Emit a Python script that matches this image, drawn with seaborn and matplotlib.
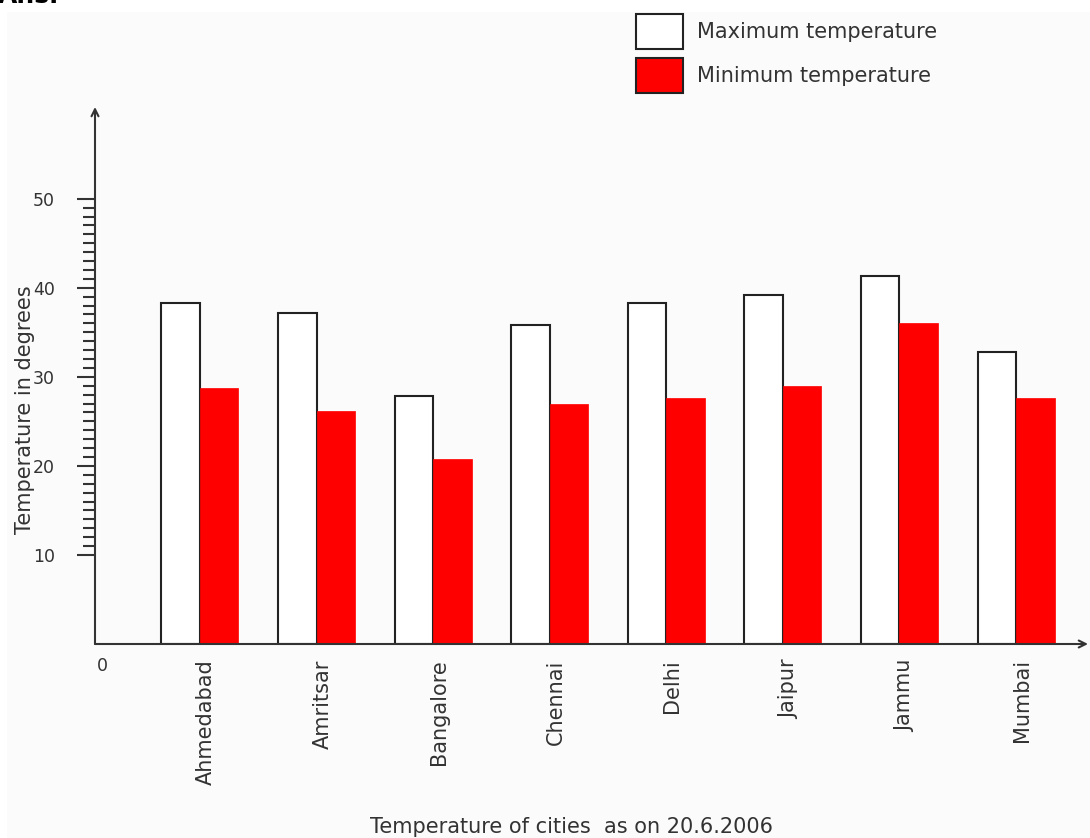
import numpy as np
import pandas as pd
import matplotlib
matplotlib.use("Agg")
import matplotlib.pyplot as plt
from matplotlib.patches import Patch, Rectangle
from matplotlib.ticker import FixedLocator
import seaborn as sns

cities = ["Ahmedabad", "Amritsar", "Bangalore", "Chennai", "Delhi", "Jaipur", "Jammu", "Mumbai"]
max_temp = [38.3, 37.2, 27.8, 35.8, 38.3, 39.2, 41.3, 32.8]
min_temp = [28.8, 26.2, 20.8, 27.0, 27.6, 29.0, 36.0, 27.6]
series_names = ["Maximum temperature", "Minimum temperature"]
y_major = [10, 20, 30, 40, 50]
y_label = "Temperature in degrees"
x_title = "Temperature of cities  as on 20.6.2006"

df = pd.DataFrame({
    "city": cities * 2,
    "kind": [series_names[0]] * len(cities) + [series_names[1]] * len(cities),
    "temp": max_temp + min_temp,
})

sns.set_style("white")
plt.rcParams["font.family"] = ["DejaVu Sans"]
TXT = "#333333"

fig = plt.figure(figsize=(10.9, 8.38), dpi=100)
fig.patch.set_facecolor("white")
fig.add_artist(Rectangle((7 / 1090, 0), 1, 1 - 12 / 838, transform=fig.transFigure,
                         facecolor="#fbfbfb", edgecolor="none", zorder=-10))
fig.text(-2 / 1090, 1 - 3 / 838, "Ans.", fontsize=18, fontweight="bold",
         ha="left", va="baseline", color="black")

ax = fig.add_axes([95 / 1090, (838 - 644) / 838, (1088 - 95) / 1090, (644 - 107) / 838])
ax.set_facecolor("none")

sns.barplot(data=df, x="city", y="temp", hue="kind", order=cities, hue_order=series_names,
            palette={series_names[0]: "white", series_names[1]: "#ff0000"},
            width=0.66, gap=0, linewidth=0, saturation=1, legend=False, ax=ax)
for bar in ax.containers[0]:
    bar.set_edgecolor("#222222")
    bar.set_linewidth(1.5)
for bar in ax.containers[1]:
    bar.set_edgecolor("#ff0000")
    bar.set_linewidth(0.5)

ax.set_xlim(-0.90, 7.617)
ax.set_ylim(0, 60.3)
for s in ax.spines.values():
    s.set_visible(False)

# axes with arrows
ax.annotate("", xy=(0, 1), xytext=(0, 0), xycoords="axes fraction",
            arrowprops=dict(arrowstyle="->,head_length=0.5,head_width=0.25", lw=1.5,
                            color=TXT, shrinkA=0, shrinkB=0), zorder=10)
ax.annotate("", xy=(1, 0), xytext=(0, 0), xycoords="axes fraction",
            arrowprops=dict(arrowstyle="->,head_length=0.5,head_width=0.25", lw=1.5,
                            color=TXT, shrinkA=0, shrinkB=0), zorder=10)

# y ticks
ax.set_yticks(y_major)
ax.set_yticklabels([str(v) for v in y_major])
ax.yaxis.set_minor_locator(FixedLocator([v for v in range(10, 51) if v % 10]))
ax.tick_params(axis="y", which="major", direction="out", length=13, width=1.5,
               color=TXT, labelsize=12.5, labelcolor=TXT, pad=16, left=True)
ax.tick_params(axis="y", which="minor", direction="out", length=8.5, width=1.5,
               color=TXT, left=True)

# x ticks
ax.set_xticks(np.arange(len(cities)) + 0.05)
ax.set_xticklabels(cities, rotation=90, va="top", ha="center")
ax.tick_params(axis="x", length=0, labelsize=15, labelcolor=TXT, pad=11)
ax.set_xlabel("")
ax.set_ylabel("")

ax.text(0.002, -22 / 537, "0", transform=ax.transAxes, fontsize=12.5, color=TXT,
        ha="left", va="center")

fig.text(25 / 1090, 1 - 410 / 838, y_label, rotation=90, fontsize=15, color=TXT,
         ha="center", va="center")
fig.text(370 / 1090, (838 - 833) / 838, x_title, fontsize=15, color=TXT,
         ha="left", va="baseline")

handles = [Patch(facecolor="white", edgecolor="#222222", linewidth=1.5),
           Patch(facecolor="#ff0000", edgecolor="#222222", linewidth=1.5)]
fig.legend(handles, series_names, loc="upper left", bbox_to_anchor=(636 / 1090, 1 - 14 / 838),
           frameon=False, fontsize=15, labelcolor=TXT, borderpad=0, borderaxespad=0,
           handlelength=2.26, handleheight=2.21, labelspacing=0.43, handletextpad=0.67)

fig.savefig("out.png", dpi=100, facecolor=fig.get_facecolor())
